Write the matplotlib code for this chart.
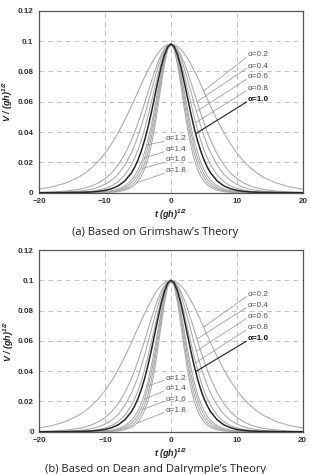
"""Solitary-wave velocity profiles V/(gh)^1/2 vs t(gh)^1/2 for several alpha."""
import matplotlib
matplotlib.use("Agg")
import matplotlib.pyplot as plt
import numpy as np

plt.rcParams["font.family"] = ["Liberation Sans", "DejaVu Sans"]
plt.rcParams["mathtext.default"] = "regular"

# profiles are symmetric about t = 0, values read for t >= 0
t_half = [0, 0.5, 1, 1.5, 2, 2.5, 3, 3.5, 4, 4.5, 5, 5.5, 6, 7, 8, 9, 10, 11, 12, 13, 14, 16, 18, 20]
alphas = ["0.2", "0.4", "0.6", "0.8", "1.0", "1.2", "1.4", "1.6", "1.8"]

v_grimshaw = [
    [0.0980, 0.0976, 0.0964, 0.0945, 0.0918, 0.0886, 0.0848, 0.0806, 0.0762, 0.0715, 0.0666, 0.0618, 0.0570, 0.0479, 0.0396, 0.0323, 0.0260, 0.0208, 0.0165, 0.0130, 0.0102, 0.0063, 0.0038, 0.0023],
    [0.0980, 0.0972, 0.0947, 0.0908, 0.0857, 0.0797, 0.0730, 0.0661, 0.0592, 0.0524, 0.0460, 0.0400, 0.0346, 0.0254, 0.0183, 0.0130, 0.0092, 0.0064, 0.0045, 0.0031, 0.0022, 0.0010, 0.0005, 0.0002],
    [0.0980, 0.0969, 0.0937, 0.0887, 0.0822, 0.0748, 0.0669, 0.0589, 0.0511, 0.0439, 0.0373, 0.0314, 0.0263, 0.0181, 0.0122, 0.0082, 0.0054, 0.0036, 0.0023, 0.0015, 0.0010, 0.0004, 0.0002, 0.0001],
    [0.0980, 0.0965, 0.0923, 0.0857, 0.0775, 0.0684, 0.0592, 0.0502, 0.0419, 0.0346, 0.0282, 0.0228, 0.0183, 0.0116, 0.0073, 0.0045, 0.0028, 0.0017, 0.0010, 0.0006, 0.0004, 0.0001, 0.0001, 0.0000],
    [0.0980, 0.0961, 0.0908, 0.0828, 0.0730, 0.0626, 0.0524, 0.0429, 0.0346, 0.0275, 0.0216, 0.0168, 0.0130, 0.0077, 0.0045, 0.0026, 0.0015, 0.0009, 0.0005, 0.0003, 0.0002, 0.0001, 0.0000, 0.0000],
    [0.0980, 0.0956, 0.0888, 0.0788, 0.0671, 0.0553, 0.0442, 0.0346, 0.0266, 0.0201, 0.0151, 0.0112, 0.0083, 0.0045, 0.0024, 0.0013, 0.0007, 0.0004, 0.0002, 0.0001, 0.0001, 0.0000, 0.0000, 0.0000],
    [0.0980, 0.0952, 0.0875, 0.0765, 0.0639, 0.0514, 0.0401, 0.0306, 0.0229, 0.0169, 0.0124, 0.0090, 0.0065, 0.0033, 0.0017, 0.0009, 0.0004, 0.0002, 0.0001, 0.0001, 0.0000, 0.0000, 0.0000, 0.0000],
    [0.0980, 0.0948, 0.0861, 0.0738, 0.0602, 0.0471, 0.0357, 0.0264, 0.0192, 0.0138, 0.0098, 0.0069, 0.0049, 0.0024, 0.0012, 0.0006, 0.0003, 0.0001, 0.0001, 0.0000, 0.0000, 0.0000, 0.0000, 0.0000],
    [0.0980, 0.0943, 0.0843, 0.0706, 0.0559, 0.0424, 0.0311, 0.0222, 0.0156, 0.0108, 0.0075, 0.0051, 0.0035, 0.0016, 0.0007, 0.0003, 0.0002, 0.0001, 0.0000, 0.0000, 0.0000, 0.0000, 0.0000, 0.0000],
]
v_dean = [
    [0.1000, 0.0996, 0.0984, 0.0965, 0.0939, 0.0906, 0.0869, 0.0827, 0.0782, 0.0735, 0.0686, 0.0638, 0.0589, 0.0497, 0.0412, 0.0337, 0.0273, 0.0219, 0.0175, 0.0138, 0.0109, 0.0067, 0.0041, 0.0025],
    [0.1000, 0.0991, 0.0966, 0.0927, 0.0874, 0.0813, 0.0745, 0.0675, 0.0604, 0.0535, 0.0469, 0.0408, 0.0353, 0.0259, 0.0187, 0.0133, 0.0094, 0.0066, 0.0046, 0.0032, 0.0022, 0.0011, 0.0005, 0.0002],
    [0.1000, 0.0988, 0.0954, 0.0901, 0.0832, 0.0754, 0.0672, 0.0588, 0.0508, 0.0434, 0.0367, 0.0307, 0.0256, 0.0174, 0.0116, 0.0077, 0.0050, 0.0033, 0.0021, 0.0014, 0.0009, 0.0004, 0.0002, 0.0001],
    [0.1000, 0.0984, 0.0939, 0.0869, 0.0782, 0.0686, 0.0589, 0.0497, 0.0412, 0.0337, 0.0273, 0.0219, 0.0175, 0.0109, 0.0067, 0.0041, 0.0025, 0.0015, 0.0009, 0.0006, 0.0003, 0.0001, 0.0000, 0.0000],
    [0.1000, 0.0981, 0.0927, 0.0845, 0.0745, 0.0639, 0.0535, 0.0438, 0.0353, 0.0280, 0.0220, 0.0172, 0.0133, 0.0079, 0.0046, 0.0027, 0.0015, 0.0009, 0.0005, 0.0003, 0.0002, 0.0001, 0.0000, 0.0000],
    [0.1000, 0.0974, 0.0900, 0.0792, 0.0669, 0.0545, 0.0431, 0.0333, 0.0252, 0.0189, 0.0140, 0.0103, 0.0075, 0.0040, 0.0021, 0.0011, 0.0006, 0.0003, 0.0002, 0.0001, 0.0000, 0.0000, 0.0000, 0.0000],
    [0.1000, 0.0970, 0.0886, 0.0767, 0.0633, 0.0503, 0.0387, 0.0291, 0.0215, 0.0156, 0.0113, 0.0081, 0.0058, 0.0029, 0.0014, 0.0007, 0.0004, 0.0002, 0.0001, 0.0000, 0.0000, 0.0000, 0.0000, 0.0000],
    [0.1000, 0.0965, 0.0870, 0.0737, 0.0593, 0.0457, 0.0341, 0.0248, 0.0178, 0.0125, 0.0088, 0.0061, 0.0042, 0.0020, 0.0010, 0.0004, 0.0002, 0.0001, 0.0000, 0.0000, 0.0000, 0.0000, 0.0000, 0.0000],
    [0.1000, 0.0959, 0.0850, 0.0702, 0.0547, 0.0407, 0.0293, 0.0205, 0.0142, 0.0097, 0.0065, 0.0044, 0.0029, 0.0013, 0.0006, 0.0003, 0.0001, 0.0001, 0.0000, 0.0000, 0.0000, 0.0000, 0.0000, 0.0000],
]
captions = ["(a) Based on Grimshaw\u2019s Theory", "(b) Based on Dean and Dalrymple\u2019s Theory"]

# label layout: text y and the t where each leader line meets its curve
LAB_Y = [0.0908, 0.0835, 0.0763, 0.0688, 0.0613, 0.0354, 0.0286, 0.0216, 0.0143]
LEAD_T = [4.95, 3.94, 3.85, 3.74, 3.74, -3.7, -4.0, -4.3, -5.2]
C_LIGHT, C_DARK, C_GRID = "#a9a9a9", "#262626", "#c4c4c4"


def mirror(vals):
    v = np.asarray(vals, dtype=float)
    return np.r_[v[:0:-1], v]


th = np.asarray(t_half, dtype=float)
t_full = np.r_[-th[:0:-1], th]

fig = plt.figure(figsize=(3.11, 4.74), dpi=100)
rects = [[0.1254, 0.5935, 0.8489, 0.3840], [0.1264, 0.0892, 0.8470, 0.3833]]
cap_y = [0.5042, 0.004]

for rect, data, cap, cy in zip(rects, [v_grimshaw, v_dean], captions, cap_y):
    ax = fig.add_axes(rect)
    for i, (a, vals) in enumerate(zip(alphas, data)):
        v = mirror(vals)
        bold = a == "1.0"
        ax.plot(t_full, v, color=C_DARK if bold else C_LIGHT, lw=1.1 if bold else 0.75, zorder=3 if bold else 2)
        # label + leader line
        tx = 11.67 if i < 5 else -0.8
        te = LEAD_T[i]
        ye = np.interp(te, t_full, v)
        ax.plot([tx - 0.25, te], [LAB_Y[i] - 0.0016, ye], color="#333333" if bold else "#9a9a9a",
                lw=0.9 if bold else 0.55, zorder=4)
        ax.text(tx, LAB_Y[i], "\u03b1=" + a, fontsize=5.9, va="center", ha="left",
                color="#111111" if bold else "#555555", fontweight="bold" if bold else "normal")
    ax.set_xlim(-20, 20)
    ax.set_ylim(0, 0.12)
    ax.set_xticks([-20, -10, 0, 10, 20])
    ax.set_yticks([0, 0.02, 0.04, 0.06, 0.08, 0.1, 0.12])
    ax.set_yticklabels(["0", "0.02", "0.04", "0.06", "0.08", "0.1", "0.12"])
    ax.tick_params(length=0, labelsize=5.8, colors="#333333", pad=4)
    for lab in ax.get_xticklabels() + ax.get_yticklabels():
        lab.set_fontweight("bold")
    ax.grid(True, ls=(0, (5, 4)), lw=0.7, color=C_GRID, zorder=0)
    for s in ax.spines.values():
        s.set_color("#555555"); s.set_linewidth(0.9)
    ax.set_xlabel(r"t (gh)$^{1/2}$", fontsize=6.5, fontweight="bold", style="italic", color="#222222")
    ax.set_ylabel(r"V / (gh)$^{1/2}$", fontsize=6.5, fontweight="bold", style="italic", color="#222222")
    ax.xaxis.set_label_coords(0.5, -0.08)
    ax.yaxis.set_label_coords(-0.09, 0.5)
    fig.text(0.5, cy, cap, ha="center", va="baseline", fontsize=8, family="Open Sans", color="#222222")

fig.savefig("out.png", dpi=100)
print("saved out.png")
